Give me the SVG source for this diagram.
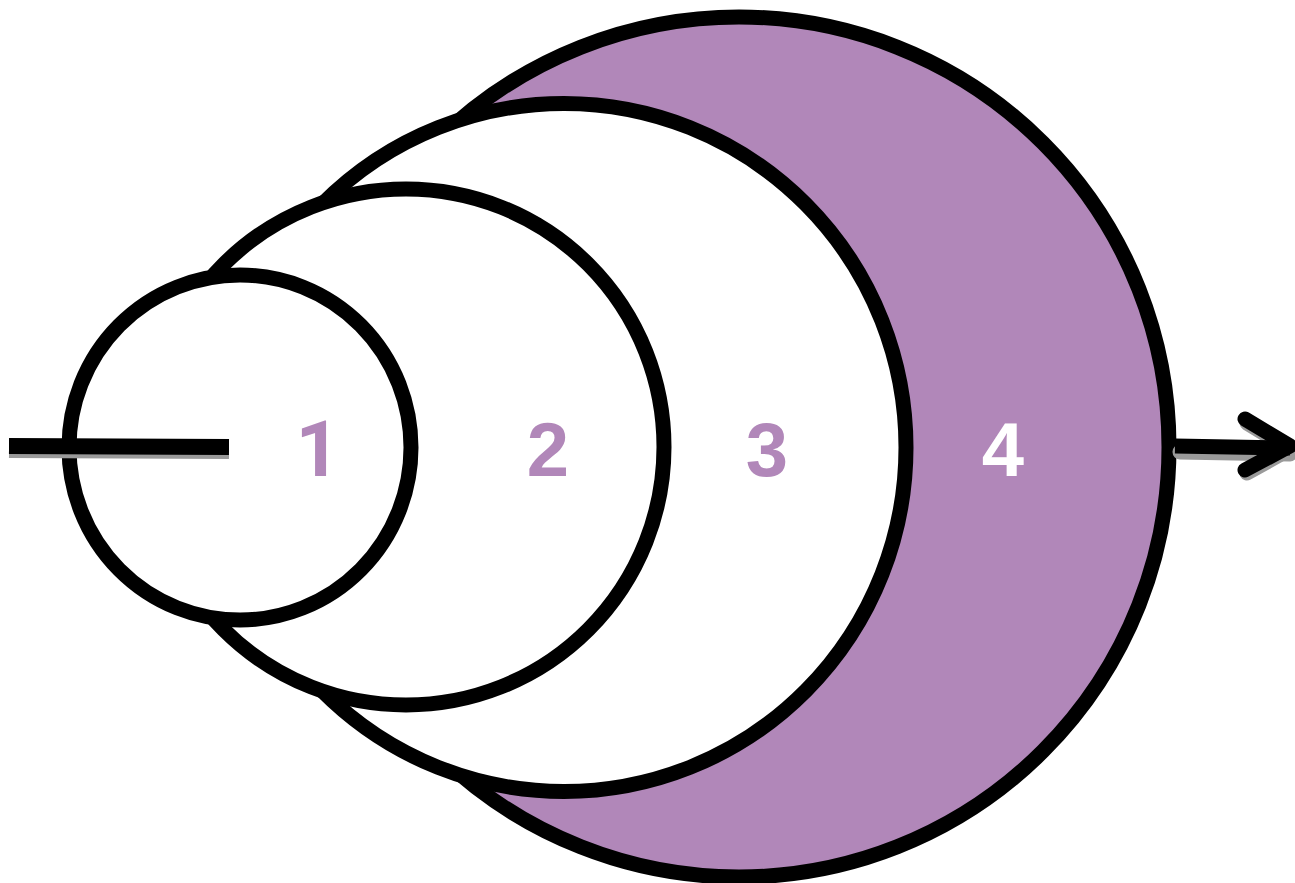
<svg xmlns="http://www.w3.org/2000/svg" width="1295" height="883" viewBox="0 0 1295 883">
<style>
.ring{stroke:#000;stroke-width:15}
.lbl{font-family:"Liberation Sans",Arial,sans-serif;font-weight:bold;font-size:76px;text-anchor:middle}
.one{font-family:Roboto,"Liberation Sans",sans-serif;font-size:78px}
.shadow{stroke:#9a9a9a;fill:none}
</style>
<rect width="1295" height="883" fill="#fff"/>
<g id="node4"><ellipse class="ring" cx="739" cy="447" rx="430" ry="430" fill="#B187B9"/></g>
<g id="node3"><ellipse class="ring" cx="564" cy="447.5" rx="342" ry="344" fill="#fff"/></g>
<g id="node2"><ellipse class="ring" cx="406" cy="447" rx="258" ry="258" fill="#fff"/></g>
<g id="node1"><ellipse class="ring" cx="240" cy="447.5" rx="171" ry="172.5" fill="#fff"/></g>
<g id="labels">
<text class="lbl one" x="318" y="476" fill="#B187B9">1</text>
<text class="lbl" x="548" y="476" fill="#B187B9">2</text>
<text class="lbl" x="767" y="476" fill="#B187B9">3</text>
<text class="lbl" x="1003" y="476" fill="#fff">4</text>
</g>
<g id="connectors">
<line class="shadow" x1="9" y1="452" x2="229" y2="453" stroke-width="12"/>
<line x1="9" y1="446" x2="229" y2="447" stroke="#000" stroke-width="16"/>
<g transform="translate(2,4)" class="shadow" stroke-width="15" stroke-linecap="round" stroke-linejoin="round">
<line x1="1178" y1="448" x2="1288" y2="450"/>
<polyline points="1245,419 1288,445 1245,469"/>
</g>
<line x1="1175" y1="446" x2="1290" y2="448" stroke="#000" stroke-width="15"/>
<polyline points="1245,419 1290,446 1245,470" fill="none" stroke="#000" stroke-width="15" stroke-linecap="round" stroke-linejoin="round"/>
</g>
</svg>
